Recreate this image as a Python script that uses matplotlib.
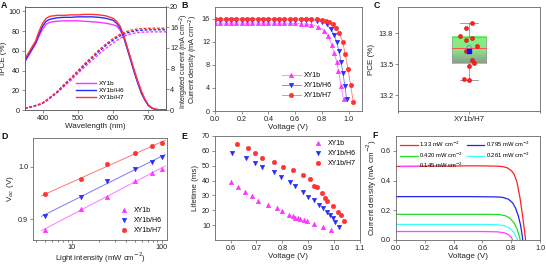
import numpy as np
import matplotlib
matplotlib.use("Agg")
import matplotlib.pyplot as plt
from matplotlib.ticker import FixedLocator, NullFormatter
from matplotlib.colors import LinearSegmentedColormap

plt.rcParams['font.family'] = ['Liberation Sans', 'DejaVu Sans']
plt.rcParams['font.size'] = 5.0
plt.rcParams['axes.linewidth'] = 0.6
plt.rcParams['axes.edgecolor'] = '#666666'
plt.rcParams['xtick.major.size'] = 2
plt.rcParams['ytick.major.size'] = 2
plt.rcParams['xtick.minor.size'] = 1.2
plt.rcParams['ytick.minor.size'] = 1.2
plt.rcParams['xtick.major.width'] = 0.5
plt.rcParams['ytick.major.width'] = 0.5
plt.rcParams['xtick.major.pad'] = 1.5
plt.rcParams['ytick.major.pad'] = 1.5
plt.rcParams['xtick.color'] = '#666666'
plt.rcParams['ytick.color'] = '#666666'
plt.rcParams['xtick.labelcolor'] = '#222222'
plt.rcParams['ytick.labelcolor'] = '#222222'
plt.rcParams['xtick.labelsize'] = 5.2
plt.rcParams['ytick.labelsize'] = 5.2
plt.rcParams['axes.labelpad'] = 1.0
plt.rcParams['axes.labelcolor'] = '#222222'
LABEL_FS = 5.8

# ---------------- data ----------------
series_names = ['XY1b', 'XY1b/H6', 'XY1b/H7']
series_colors = ['#FF33FF', '#2B2BFF', '#FF3333']
fit_colors = ['#FF77FF', '#7777FF', '#FF7777']
series_markers = ['^', 'v', 'o']

# Panel A: IPCE and integrated current
wavelength = [350, 360, 370, 380, 390, 400, 410, 420, 440, 460, 480, 500, 520, 540, 560, 580,
              600, 610, 620, 630, 640, 650, 660, 670, 680, 690, 700, 710, 720, 730, 740, 750]
ipce_xy1b = [49, 55, 61, 67, 75, 82, 87, 89, 90, 90.5, 90.5, 90.5, 90, 89.5, 89, 88,
             86.5, 85, 81, 74, 63, 52, 40, 29, 19, 11, 5, 2, 0.8, 0.3, 0.1, 0]
ipce_h6 = [50, 56, 62, 68, 77, 85, 90, 92, 93.5, 94, 94, 94.5, 94.5, 94.5, 94, 93,
           91, 88, 83, 74, 62, 50, 38, 27, 17, 10, 4.5, 1.8, 0.7, 0.2, 0.1, 0]
ipce_h7 = [52, 58, 64, 70, 80, 88, 93, 95, 96, 96, 96.5, 96.5, 97, 97, 96.5, 95.5,
           93, 90, 85, 76, 64, 52, 40, 29, 19, 11, 5, 2, 0.8, 0.3, 0.1, 0]
jint_xy1b = [0.3, 0.45, 0.6, 0.8, 1.0, 1.3, 1.7, 2.2, 3.25, 4.5, 5.75, 7.05, 8.35, 9.6, 10.8, 11.95,
             12.95, 13.4, 13.85, 14.2, 14.5, 14.7, 14.85, 14.95, 15.02, 15.06, 15.08, 15.1, 15.1, 15.1, 15.1, 15.1]
jint_h6 = [0.3, 0.5, 0.65, 0.85, 1.05, 1.35, 1.8, 2.3, 3.4, 4.75, 6.05, 7.4, 8.75, 10.05, 11.3, 12.5,
           13.5, 13.95, 14.35, 14.65, 14.9, 15.1, 15.25, 15.35, 15.42, 15.46, 15.48, 15.5, 15.5, 15.5, 15.5, 15.5]
jint_h7 = [0.3, 0.5, 0.7, 0.9, 1.1, 1.4, 1.85, 2.4, 3.5, 4.9, 6.2, 7.6, 9.0, 10.3, 11.6, 12.8,
           13.8, 14.25, 14.65, 14.95, 15.2, 15.4, 15.55, 15.65, 15.72, 15.76, 15.78, 15.8, 15.8, 15.8, 15.8, 15.8]

# Panel B: J-V curves
jv_v_xy1b = [0, 0.04, 0.08, 0.12, 0.16, 0.2, 0.24, 0.28, 0.32, 0.36, 0.4, 0.44, 0.48, 0.52, 0.56, 0.6,
             0.64, 0.68, 0.72, 0.772, 0.818, 0.848, 0.873, 0.891, 0.911, 0.924, 0.944, 0.962]
jv_j_xy1b = [15.2, 15.2, 15.2, 15.22, 15.22, 15.22, 15.22, 15.22, 15.22, 15.22, 15.22, 15.2, 15.2, 15.2, 15.18, 15.15,
             15.1, 15.05, 14.95, 14.6, 13.9, 12.9, 11.5, 10.1, 8.5, 6.9, 4.35, 2.0]
jv_v_h6 = [0, 0.04, 0.08, 0.12, 0.16, 0.2, 0.24, 0.28, 0.32, 0.36, 0.4, 0.44, 0.48, 0.52, 0.56, 0.6,
           0.64, 0.68, 0.72, 0.76, 0.8, 0.835, 0.866, 0.891, 0.911, 0.929, 0.944, 0.957, 0.972, 0.985]
jv_j_h6 = [15.75, 15.75, 15.76, 15.76, 15.77, 15.77, 15.78, 15.78, 15.78, 15.78, 15.78, 15.78, 15.78, 15.78, 15.77, 15.76,
           15.75, 15.72, 15.68, 15.6, 15.45, 15.0, 14.2, 13.2, 11.9, 10.3, 8.5, 6.55, 4.4, 2.0]
jv_v_h7 = [0, 0.04, 0.08, 0.12, 0.16, 0.2, 0.24, 0.28, 0.32, 0.36, 0.4, 0.44, 0.48, 0.52, 0.56, 0.6,
           0.64, 0.68, 0.72, 0.76, 0.8, 0.83, 0.855, 0.88, 0.905, 0.93, 0.955, 0.975, 0.995, 1.015, 1.035]
jv_j_h7 = [15.95, 15.96, 15.96, 15.97, 15.97, 15.97, 15.98, 15.98, 15.98, 15.98, 15.98, 15.98, 15.98, 15.98, 15.97, 15.97,
           15.96, 15.95, 15.92, 15.88, 15.8, 15.65, 15.4, 15.0, 14.4, 13.5, 12.0, 9.8, 7.2, 4.5, 1.5]

# Panel C: PCE statistics (XY1b/H7)
pce_values = [13.894, 13.85, 13.77, 13.755, 13.73, 13.675, 13.63, 13.54, 13.515, 13.485, 13.355, 13.347]
pce_jitter = [0.018, -0.022, -0.06, 0.018, -0.022, 0.053, -0.022, 0.018, 0.036, 0.0, -0.036, 0.0]
pce_category = 'XY1b/H7'

# Panel D: Voc vs light intensity
intensity = [5, 12.6, 25, 50, 79, 100]
voc_xy1b = [0.879, 0.920, 0.943, 0.973, 0.989, 0.9955]
voc_h6 = [0.906, 0.943, 0.973, 0.995, 1.010, 1.018]
voc_h7 = [0.947, 0.976, 1.005, 1.0255, 1.039, 1.046]

# Panel E: lifetime vs voltage
lt_v_xy1b = [0.603, 0.628, 0.654, 0.681, 0.706, 0.745, 0.779, 0.799, 0.824, 0.840, 0.850, 0.859, 0.869,
             0.882, 0.897, 0.921, 0.956, 0.987]
lt_t_xy1b = [38.8, 35.7, 32.2, 29.3, 26.5, 23.5, 21.8, 19.6, 17.1, 16.0, 15.1, 14.7, 14.2,
             13.4, 12.7, 10.5, 8.9, 6.5]
lt_v_h6 = [0.606, 0.659, 0.694, 0.721, 0.767, 0.794, 0.828, 0.849, 0.879, 0.901, 0.922, 0.942, 0.959,
           0.973, 0.983, 0.994, 1.004, 1.017]
lt_t_h6 = [58.5, 55.0, 51.6, 49.2, 46.1, 42.1, 39.0, 36.2, 32.2, 29.1, 26.6, 23.8, 21.3,
           18.7, 16.9, 14.5, 12.2, 8.9]
lt_v_h7 = [0.626, 0.669, 0.695, 0.721, 0.767, 0.803, 0.840, 0.881, 0.905, 0.924, 0.933, 0.953, 0.963,
           0.973, 0.994, 1.015, 1.025, 1.038]
lt_t_h7 = [64.5, 62.0, 58.3, 55.2, 52.7, 49.0, 47.2, 43.5, 41.2, 36.6, 35.7, 31.3, 28.6,
           26.4, 22.9, 18.9, 16.5, 13.1]

# Panel F: J-V at low light
low_labels = ['1.33 mW cm$^{-2}$', '0.795 mW cm$^{-2}$', '0.420 mW cm$^{-2}$',
              '0.261 mW cm$^{-2}$', '0.145 mW cm$^{-2}$']
low_colors = ['#FF2222', '#2222EE', '#22DD22', '#33FFFF', '#FF44FF']
low_v = [
    [0, 0.1, 0.2, 0.3, 0.4, 0.5, 0.6, 0.7, 0.74, 0.77, 0.80, 0.82, 0.84, 0.86, 0.875, 0.89, 0.90],
    [0, 0.1, 0.2, 0.3, 0.4, 0.5, 0.6, 0.7, 0.74, 0.78, 0.81, 0.83, 0.85, 0.865, 0.875, 0.88],
    [0, 0.1, 0.2, 0.3, 0.4, 0.5, 0.6, 0.7, 0.72, 0.76, 0.79, 0.82, 0.84, 0.855, 0.863],
    [0, 0.1, 0.2, 0.3, 0.4, 0.5, 0.6, 0.7, 0.75, 0.79, 0.815, 0.835, 0.845],
    [0, 0.1, 0.2, 0.3, 0.4, 0.5, 0.6, 0.7, 0.75, 0.78, 0.80, 0.81],
]
low_j = [
    [0.495, 0.496, 0.497, 0.497, 0.498, 0.499, 0.499, 0.497, 0.494, 0.487, 0.468, 0.443, 0.39, 0.29, 0.19, 0.08, 0.0],
    [0.292, 0.292, 0.292, 0.292, 0.292, 0.292, 0.291, 0.290, 0.287, 0.275, 0.25, 0.215, 0.16, 0.10, 0.04, 0.0],
    [0.173, 0.173, 0.173, 0.173, 0.173, 0.173, 0.173, 0.172, 0.171, 0.163, 0.148, 0.115, 0.075, 0.03, 0.0],
    [0.105, 0.105, 0.105, 0.105, 0.105, 0.105, 0.105, 0.103, 0.097, 0.08, 0.055, 0.02, 0.0],
    [0.057, 0.057, 0.057, 0.057, 0.057, 0.057, 0.057, 0.055, 0.049, 0.037, 0.018, 0.0],
]

# ---------------- figure ----------------
W, H = 546, 264
fig = plt.figure(figsize=(W / 100, H / 100), dpi=100)


def ax_px(l, t, r, b):
    return fig.add_axes([l / W, 1 - b / H, (r - l) / W, (b - t) / H])


def letter(x, y, s):
    fig.text(x / W, 1 - y / H, s, fontsize=6.3, fontweight='bold', va='top', ha='left', color='#111111')


# ---- A ----
axA = ax_px(25, 6.5, 166, 110)
ipce = [ipce_xy1b, ipce_h6, ipce_h7]
jint = [jint_xy1b, jint_h6, jint_h7]
for name, c, y in zip(series_names, series_colors, ipce):
    axA.plot(wavelength, y, color=c, lw=1.0, label=name)
axA.set_xlim(350, 750)
axA.set_ylim(0, 105)
axA.set_yticks([0, 20, 40, 60, 80, 100])
axA.set_xticks([400, 500, 600, 700])
axA.set_xlabel('Wavelength (nm)', fontsize=LABEL_FS)
axA.set_ylabel('IPCE (%)', fontsize=LABEL_FS, labelpad=0.5)
axA.legend(loc='upper left', bbox_to_anchor=(0.33, 0.33), frameon=False, fontsize=4.6,
           handlelength=3.2, labelspacing=0.25, borderpad=0.2, handletextpad=0.3)
axA2 = axA.twinx()
for c, y in zip(series_colors, jint):
    axA2.plot(wavelength, y, color=c, lw=1.0, ls=(0, (2, 1.2)))
axA2.set_ylim(0, 20)
axA2.set_yticks([0, 4, 8, 12, 16, 20])
axA2.tick_params(axis='y', pad=1.0)
axA2.set_ylabel('Intergated current (mA cm$^{-2}$)', fontsize=5.2)
axA2.yaxis.set_label_coords(1.08, 0.47)
letter(1, 1, 'A')

# ---- B ----
axB = ax_px(215, 7, 362, 111)
jv = [(jv_v_xy1b, jv_j_xy1b), (jv_v_h6, jv_j_h6), (jv_v_h7, jv_j_h7)]
for name, c, fc, m, (v, j) in zip(series_names, series_colors, fit_colors, series_markers, jv):
    axB.plot(v, j, color=fc, lw=0.6, marker=m, ms=3.2, mfc=c, mec=c, mew=0.4, label=name)
axB.set_xlim(0, 1.1)
axB.set_ylim(0, 18)
axB.set_xticks([0, 0.2, 0.4, 0.6, 0.8, 1.0])
axB.set_xticklabels(['0.0', '0.2', '0.4', '0.6', '0.8', '1.0'])
axB.set_yticks([0, 4, 8, 12, 16])
axB.set_xlabel('Voltage (V)', fontsize=LABEL_FS)
axB.set_ylabel('Current density (mA cm$^{-2}$)', fontsize=5.3)
axB.yaxis.set_label_coords(-0.1, 0.5)
axB.legend(loc='upper left', bbox_to_anchor=(0.42, 0.42), frameon=False, fontsize=5.0,
           handlelength=2.8, labelspacing=0.45, borderpad=0.2, handletextpad=0.4)
letter(181, 1, 'B')

# ---- C ----
axC = ax_px(398, 7, 540, 111)
vals = np.array(pce_values)
q1, med, q3 = np.percentile(vals, [25, 50, 75])
mean = vals.mean()
bw = 0.24
x0 = 1.0
grad = np.linspace(0, 1, 100).reshape(-1, 1)
cmapC = LinearSegmentedColormap.from_list('g', ['#8C9C8C', '#88E888', '#7DF57D'])
axC.imshow(grad, extent=(x0 - bw / 2, x0 + bw / 2, q1, q3), aspect='auto', cmap=cmapC,
           origin='lower', zorder=1)
axC.add_patch(plt.Rectangle((x0 - bw / 2, q1), bw, q3 - q1, fill=False, ec='#999999', lw=0.5, zorder=2))
axC.plot([x0 - bw / 2, x0 + bw / 2], [med, med], color='#FF5050', lw=0.7, zorder=3)
axC.plot([x0, x0], [q3, vals.max()], color='#777777', lw=0.5, zorder=2)
axC.plot([x0, x0], [vals.min(), q1], color='#777777', lw=0.5, zorder=2)
cw = 0.065
axC.plot([x0 - cw, x0 + cw], [vals.max()] * 2, color='#777777', lw=0.5, zorder=2)
axC.plot([x0 - cw, x0 + cw], [vals.min()] * 2, color='#777777', lw=0.5, zorder=2)
axC.scatter(x0 + np.array(pce_jitter), vals, s=9, c='#FF2020', edgecolors='#CC0000', linewidths=0.3, zorder=4)
axC.scatter([x0], [mean + 0.03], s=10, facecolors='none', edgecolors='#5577FF', linewidths=0.5, zorder=5)
axC.scatter([x0], [mean], s=8, marker='s', c='#1010EE', zorder=6)
axC.set_xlim(0.5, 1.5)
axC.set_ylim(13.05, 14.05)
axC.set_yticks([13.2, 13.5, 13.8])
axC.set_xticks([x0])
axC.set_xticklabels([pce_category], fontsize=5.6)
axC.xaxis.set_minor_locator(FixedLocator([0.5, 1.5]))
axC.set_ylabel('PCE (%)', fontsize=LABEL_FS, labelpad=2.5)
letter(374, 1, 'C')

# ---- D ----
axD = ax_px(33, 138, 167, 240)
vocs = [voc_xy1b, voc_h6, voc_h7]
lx = np.log10(intensity)
for name, c, fc, m, y in zip(series_names, series_colors, fit_colors, series_markers, vocs):
    p = np.polyfit(lx, y, 1)
    xf = np.array([4.6, 110])
    axD.plot(xf, np.polyval(p, np.log10(xf)), color=fc, lw=0.7, zorder=1)
    axD.plot(intensity, y, ls='none', marker=m, ms=3.2, mfc=c, mec=c, mew=0.4, label=name, zorder=2)
axD.set_xscale('log')
axD.set_xlim(3.7, 115)
axD.set_ylim(0.86, 1.055)
axD.set_xticks([10, 100])
axD.set_xticklabels(['10', '100'])
axD.xaxis.set_minor_formatter(NullFormatter())
axD.tick_params(axis='x', pad=1.0)
axD.set_yticks([0.9, 1.0])
axD.set_yticklabels(['0.9', '1.0'])
axD.set_xlabel('Light intensity (mW cm$^{-2}$)', fontsize=5.6)
axD.xaxis.set_label_coords(0.5, -0.105)
axD.set_ylabel('V$_{oc}$ (V)', fontsize=LABEL_FS, labelpad=1.5)
axD.legend(loc='lower right', frameon=False, fontsize=5.0, handlelength=1.2, labelspacing=0.45,
           borderpad=0.3, handletextpad=0.8)
letter(1, 132, 'D')

# ---- E ----
axE = ax_px(215, 136, 360, 240)
lts = [(lt_v_xy1b, lt_t_xy1b), (lt_v_h6, lt_t_h6), (lt_v_h7, lt_t_h7)]
for name, c, m, (v, t) in zip(series_names, series_colors, series_markers, lts):
    axE.plot(v, t, ls='none', marker=m, ms=3.2, mfc=c, mec=c, mew=0.4, label=name)
axE.set_xlim(0.54, 1.1)
axE.set_ylim(0, 70)
axE.set_xticks([0.6, 0.7, 0.8, 0.9, 1.0, 1.1])
axE.set_yticks([10, 20, 30, 40, 50, 60, 70])
axE.set_xlabel('Voltage (V)', fontsize=LABEL_FS, labelpad=0.8)
axE.set_ylabel('Lifetime (ms)', fontsize=LABEL_FS, labelpad=2.0)
axE.legend(loc='upper right', frameon=False, fontsize=5.0, handlelength=1.2, labelspacing=0.45,
           borderpad=0.1, handletextpad=0.8)
letter(181, 132, 'E')

# ---- F ----
axF = ax_px(396, 136, 540, 240)
lines = []
for lab, c, v, j in zip(low_labels, low_colors, low_v, low_j):
    ln, = axF.plot(v, j, color=c, lw=0.9, label=lab)
    lines.append(ln)
axF.set_xlim(0, 1.0)
axF.set_ylim(0, 0.7)
axF.set_xticks([0, 0.2, 0.4, 0.6, 0.8, 1.0])
axF.set_xticklabels(['0.0', '0.2', '0.4', '0.6', '0.8', '1.0'])
axF.set_yticks([0.0, 0.2, 0.4, 0.6])
axF.set_yticklabels(['0.0', '0.2', '0.4', '0.6'])
axF.set_xlabel('Voltage (V)', fontsize=LABEL_FS, labelpad=0.8)
axF.set_ylabel('Current density (mA cm$^{-2}$)', fontsize=LABEL_FS, labelpad=1.5)
order = [0, 2, 4, 1, 3]
axF.legend([lines[i] for i in order], [low_labels[i] for i in order], loc='upper left', ncol=2,
           frameon=False, fontsize=4.2, handlelength=3.0, columnspacing=0.6, labelspacing=0.2,
           borderpad=0.2, handletextpad=0.3, bbox_to_anchor=(0.0, 1.0))
letter(372, 131, 'F')

fig.savefig('out.png', dpi=100)
